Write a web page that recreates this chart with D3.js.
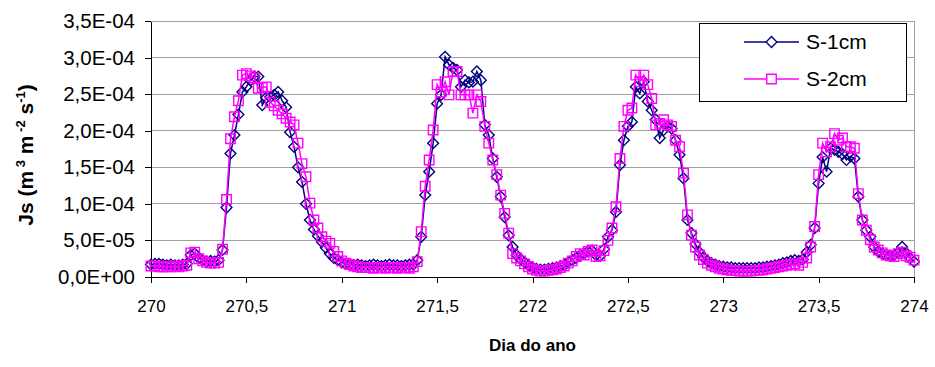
<!DOCTYPE html>
<html>
<head>
<meta charset="utf-8">
<script src="https://cdn.jsdelivr.net/npm/d3@7"></script>
<style>
  body { margin: 0; background: #fff; }
  svg { display: block; font-family: Arial, "Liberation Sans", sans-serif; }
</style>
</head>
<body>
<svg id="chart" width="935" height="367"></svg>
<script>
// Half-hourly sap flux density readings, day of year 270 to 274
const startDay = 270;
const readingsPerDay = 48;

// Sap flux density, in units of 1E-05 m3 m-2 s-1
const s1cm = [
  1.7,1.8,1.8,1.7,1.6,1.7,1.6,1.6,1.7,1.8,
  3.0,3.2,2.6,2.3,2.1,2.2,2.1,2.3,3.7,9.5,
  16.9,19.4,22.2,25.3,26.0,26.9,27.4,27.4,23.5,24.5,
  24.6,24.9,25.3,24.1,23.2,19.8,17.8,15.0,13.0,10.0,
  7.8,6.5,5.6,4.8,4.0,3.2,2.6,2.3,
  2.0,1.8,1.7,1.6,1.7,1.6,1.5,1.6,1.7,1.6,
  1.5,1.6,1.7,1.6,1.6,1.5,1.6,1.7,1.7,
  2.3,5.5,11.2,14.4,18.3,23.7,24.9,30.1,29.0,28.6,
  28.3,26.0,26.9,26.6,26.7,28.1,26.9,20.8,19.4,16.2,
  13.7,11.0,8.2,5.7,4.1,3.0,2.4,2.0,1.6,
  1.3,1.1,1.0,1.0,1.1,1.2,1.3,1.5,1.6,
  2.0,2.3,2.6,3.0,3.2,3.5,3.6,3.0,2.9,3.8,
  5.5,6.4,8.9,15.3,18.7,20.6,21.2,26.0,25.1,26.7,
  24.0,22.8,21.5,19.0,20.1,20.6,20.3,18.7,16.7,13.5,
  7.8,6.0,4.5,3.4,2.7,2.2,1.9,1.7,1.5,
  1.4,1.3,1.3,1.2,1.2,1.2,1.2,1.2,1.2,1.3,
  1.3,1.4,1.5,1.6,1.7,1.9,2.0,2.2,2.3,2.2,2.4,
  3.4,4.4,6.7,12.8,16.4,14.4,17.6,17.4,17.1,16.8,
  16.0,16.5,16.2,11.0,7.8,6.4,5.5,4.1,3.5,3.2,
  3.0,2.9,3.0,3.3,4.1,3.3,2.6,2.1
];
const s2cm = [
  1.5,1.5,1.4,1.4,1.4,1.4,1.5,1.4,1.5,1.6,
  3.3,3.4,2.5,2.2,2.0,1.9,1.9,2.0,3.8,10.6,
  18.9,21.9,24.1,27.6,27.8,27.5,27.2,25.8,25.9,26.0,
  23.9,23.4,22.8,22.3,21.7,21.2,20.8,18.3,15.5,13.7,
  10.1,7.8,6.7,5.5,4.9,4.6,3.5,2.8,
  2.2,1.9,1.7,1.5,1.4,1.3,1.3,1.3,1.2,1.3,
  1.3,1.2,1.3,1.3,1.2,1.3,1.3,1.2,1.4,
  2.1,6.2,12.4,16.0,20.1,26.3,25.3,26.7,24.9,28.1,
  28.1,24.9,24.9,24.9,22.4,24.9,24.0,20.6,18.3,16.0,
  14.0,11.2,8.7,6.0,3.2,2.6,2.2,1.8,1.4,
  1.1,0.9,0.8,0.8,0.9,1.0,1.1,1.3,1.5,
  1.9,2.2,2.8,3.2,3.0,3.5,3.7,2.8,2.9,3.6,
  5.0,6.7,9.6,16.2,20.6,22.8,23.1,27.6,26.7,27.6,
  26.3,24.4,20.8,21.0,21.5,20.8,20.6,18.7,17.8,14.2,
  8.5,5.7,4.1,3.0,2.4,1.9,1.6,1.4,1.2,
  1.1,1.0,0.9,0.9,0.8,0.8,0.8,0.8,0.9,0.9,
  1.0,1.1,1.2,1.3,1.4,1.5,1.6,1.7,1.8,1.6,2.0,
  2.6,4.1,6.9,14.0,18.3,17.1,17.8,19.6,18.7,19.0,
  17.8,17.8,17.6,11.4,7.8,6.4,5.1,4.1,3.7,3.3,
  3.0,2.9,2.8,3.2,3.4,2.9,2.7,2.3
];

const seriesNames = ["S-1cm", "S-2cm"];
const yTicks = [0, 5, 10, 15, 20, 25, 30, 35];
const yTickLabels = ["0,0E+00","5,0E-05","1,0E-04","1,5E-04","2,0E-04","2,5E-04","3,0E-04","3,5E-04"];
const xTicks = [270, 270.5, 271, 271.5, 272, 272.5, 273, 273.5, 274];
const xTickLabels = ["270","270,5","271","271,5","272","272,5","273","273,5","274"];

const svg = d3.select("#chart");
const plot = { left: 151, right: 914, top: 21, bottom: 277 };

const x = d3.scaleLinear().domain([270, 274]).range([plot.left, plot.right]);
const y = d3.scaleLinear().domain([0, 35]).range([plot.bottom, plot.top]);

const dayOf = i => startDay + i / readingsPerDay;

// horizontal gridlines
svg.append("g").selectAll("line").data(yTicks.slice(1)).join("line")
  .attr("x1", plot.left).attr("x2", plot.right)
  .attr("y1", d => y(d)).attr("y2", d => y(d))
  .attr("stroke", "#a0a0a0").attr("stroke-width", 1).attr("shape-rendering", "crispEdges");

// plot area right border
svg.append("line")
  .attr("x1", plot.right).attr("x2", plot.right)
  .attr("y1", plot.top).attr("y2", plot.bottom)
  .attr("stroke", "#a0a0a0").attr("shape-rendering", "crispEdges");

// axes
const yAxis = d3.axisLeft(y).tickValues(yTicks)
  .tickFormat((d, i) => yTickLabels[i]).tickSizeInner(6).tickSizeOuter(0).tickPadding(10);
const yG = svg.append("g").attr("transform", `translate(${plot.left},0)`).call(yAxis);

const xAxis = d3.axisBottom(x).tickValues(xTicks)
  .tickFormat((d, i) => xTickLabels[i]).tickSizeInner(6).tickSizeOuter(0).tickPadding(17);
const xG = svg.append("g").attr("transform", `translate(0,${plot.bottom})`).call(xAxis);

[yG, xG].forEach(g => {
  g.selectAll("path,line").attr("stroke", "#000").attr("shape-rendering", "crispEdges");
  g.selectAll("text").attr("fill", "#000")
    .style("font-family", "Arial, 'Liberation Sans', sans-serif");
});
yG.selectAll("text").style("font-size", "20.5px");
xG.selectAll("text").style("font-size", "17px");

// series markers
const colors = ["#000080", "#ff00ff"];
const square = d3.symbol().type(d3.symbolSquare).size(90);

function diamondPath() {
  // open diamond marker
  const r = 5.4;
  return `M0,${-r}L${r},0L0,${r}L${-r},0Z`;
}

const line = d3.line().x((d, i) => x(dayOf(i))).y(d => y(d));

[s1cm, s2cm].forEach((vals, k) => {
  const g = svg.append("g");
  g.append("path").datum(vals).attr("d", line)
    .attr("fill", "none").attr("stroke", colors[k]).attr("stroke-width", 1.5);
  g.selectAll("path.m").data(vals).join("path").attr("class", "m")
    .attr("d", k === 0 ? diamondPath() : square())
    .attr("transform", (d, i) => `translate(${x(dayOf(i))},${y(d)})`)
    .attr("fill", "none").attr("stroke", colors[k]).attr("stroke-width", 1.4);
});

// axis titles
const yTitle = svg.append("text")
  .attr("transform", "translate(33,155) rotate(-90)")
  .attr("text-anchor", "middle")
  .style("font-size", "21px").style("font-weight", "bold");
yTitle.append("tspan").text("Js (m");
yTitle.append("tspan").attr("dy", -8).style("font-size", "13px").text(" 3");
yTitle.append("tspan").attr("dy", 8).text(" m");
yTitle.append("tspan").attr("dy", -8).style("font-size", "13px").text(" -2");
yTitle.append("tspan").attr("dy", 8).text(" s");
yTitle.append("tspan").attr("dy", -8).style("font-size", "13px").text("-1");
yTitle.append("tspan").attr("dy", 8).text(")");

svg.append("text")
  .attr("x", (plot.left + plot.right) / 2).attr("y", 351)
  .attr("text-anchor", "middle")
  .style("font-size", "17px").style("font-weight", "bold")
  .text("Dia do ano");

// legend
const lg = svg.append("g");
lg.append("rect").attr("x", 699.5).attr("y", 23.5).attr("width", 207).attr("height", 78)
  .attr("fill", "#fff").attr("stroke", "#000").attr("stroke-width", 1);
seriesNames.forEach((name, k) => {
  const cy = 42 + k * 37;
  lg.append("line").attr("x1", 744).attr("x2", 799).attr("y1", cy).attr("y2", cy)
    .attr("stroke", colors[k]).attr("stroke-width", 1.5);
  lg.append("path").attr("d", k === 0 ? diamondPath() : square())
    .attr("transform", `translate(771.5,${cy})`)
    .attr("fill", "#fff").attr("stroke", colors[k]).attr("stroke-width", 1.4);
  lg.append("text").attr("x", 806).attr("y", cy).attr("dy", "0.35em")
    .style("font-size", "21px").text(name);
});
</script>
</body>
</html>
